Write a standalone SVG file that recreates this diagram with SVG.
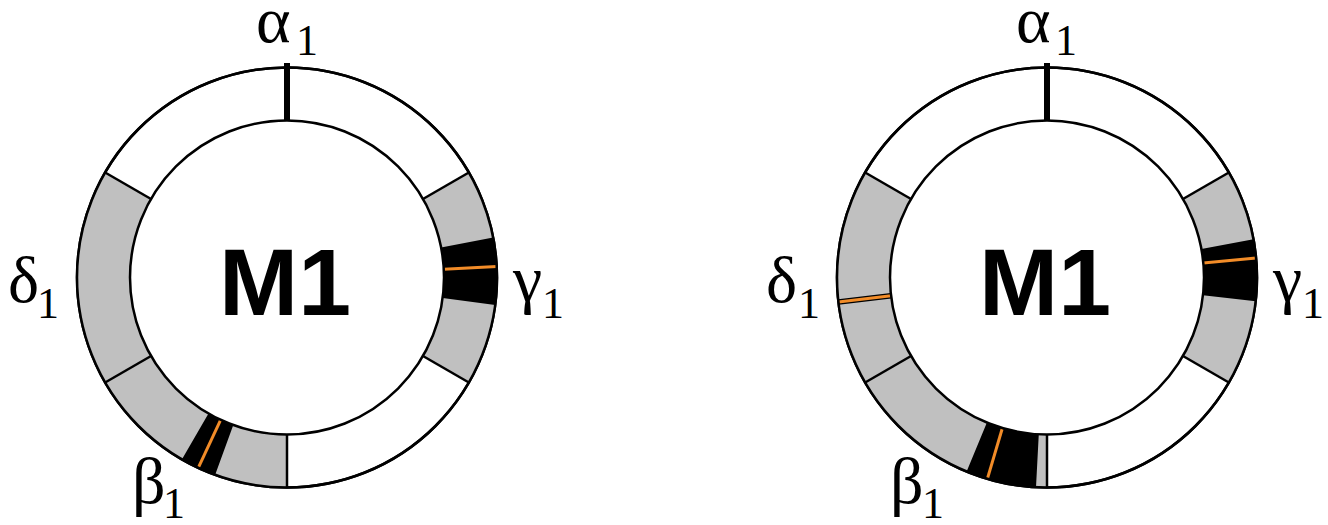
<svg xmlns="http://www.w3.org/2000/svg" width="1328" height="525" viewBox="0 0 1328 525">
<style>
.ring{fill:#fff;stroke:#000;stroke-width:2.5}
.ringo{fill:none;stroke:#000;stroke-width:2.5}
.gray{fill:#c0c0c0}
.blk{fill:#000}
.div{stroke:#000;stroke-width:2.5}
.tick{stroke:#000;stroke-width:6}
.org{stroke:#f28c28;stroke-width:3}
.orgb{stroke:#000;stroke-width:5.5}
.gk{font-family:"Liberation Serif","Times New Roman",serif;font-size:66px;fill:#000}
.sb{font-family:"Liberation Serif","Times New Roman",serif;font-size:44px;fill:#000}
.m{font-family:"Liberation Sans",Arial,sans-serif;font-weight:bold;font-size:95px;text-anchor:middle;fill:#000}
</style>
<rect width="1328" height="525" fill="#fff"/>
<g id="ring-left">
<circle class="ring" cx="287" cy="277.5" r="210"/>
<path class="gray" d="M468.87 172.5A210 210 0 0 1 468.87 382.5L422.97 356A157 157 0 0 0 422.97 199Z"/>
<path class="gray" d="M287 487.5A210 210 0 0 1 105.13 172.5L151.03 199A157 157 0 0 0 287 434.5Z"/>
<path class="blk" d="M493.14 237.43A210 210 0 0 1 495.2 304.91L442.66 297.99A157 157 0 0 0 441.12 247.54Z"/>
<path class="blk" d="M215.18 474.83A210 210 0 0 1 182 459.37L208.5 413.47A157 157 0 0 0 233.3 425.03Z"/>
<line class="org" x1="496.71" y1="266.51" x2="443.78" y2="269.28"/>
<line class="org" x1="198.25" y1="467.83" x2="220.65" y2="419.79"/>
<line class="div" x1="468.87" y1="172.5" x2="422.97" y2="199"/>
<line class="div" x1="468.87" y1="382.5" x2="422.97" y2="356"/>
<line class="div" x1="287" y1="487.5" x2="287" y2="434.5"/>
<line class="div" x1="105.13" y1="382.5" x2="151.03" y2="356"/>
<line class="div" x1="105.13" y1="172.5" x2="151.03" y2="199"/>
<circle class="ring" cx="287" cy="277.5" r="157"/>
<circle class="ringo" cx="287" cy="277.5" r="210"/>
<line class="tick" x1="287" y1="63" x2="287" y2="121"/>
<text class="m" x="285" y="315">M1</text>
</g>
<g id="labels-left">
<text class="gk" x="256" y="42">α</text>
<text class="sb" x="296" y="55">1</text>
<text class="gk" x="513" y="301">γ</text>
<text class="sb" x="542" y="318">1</text>
<text class="gk" x="8" y="302">δ</text>
<text class="sb" x="37" y="318">1</text>
<text class="gk" x="132" y="503">β</text>
<text class="sb" x="163" y="518">1</text>
</g>
<g id="ring-right">
<circle class="ring" cx="1047" cy="277.5" r="210"/>
<path class="gray" d="M1228.87 172.5A210 210 0 0 1 1228.87 382.5L1182.97 356A157 157 0 0 0 1182.97 199Z"/>
<path class="gray" d="M1047 487.5A210 210 0 0 1 865.13 172.5L911.03 199A157 157 0 0 0 1047 434.5Z"/>
<path class="blk" d="M1253.48 239.23A210 210 0 0 1 1255.65 301.27L1202.99 295.27A157 157 0 0 0 1201.37 248.89Z"/>
<path class="blk" d="M1036.01 487.21A210 210 0 0 1 966.64 471.51L986.92 422.55A157 157 0 0 0 1038.78 434.28Z"/>
<line class="orgb" x1="838.43" y1="302" x2="891.07" y2="295.82"/>
<line class="org" x1="1256.1" y1="258.1" x2="1203.33" y2="263"/>
<line class="org" x1="987.36" y1="478.85" x2="1002.41" y2="428.03"/>
<line class="org" x1="838.43" y1="302" x2="891.07" y2="295.82"/>
<line class="div" x1="1228.87" y1="172.5" x2="1182.97" y2="199"/>
<line class="div" x1="1228.87" y1="382.5" x2="1182.97" y2="356"/>
<line class="div" x1="1047" y1="487.5" x2="1047" y2="434.5"/>
<line class="div" x1="865.13" y1="382.5" x2="911.03" y2="356"/>
<line class="div" x1="865.13" y1="172.5" x2="911.03" y2="199"/>
<circle class="ring" cx="1047" cy="277.5" r="157"/>
<circle class="ringo" cx="1047" cy="277.5" r="210"/>
<line class="tick" x1="1047" y1="63" x2="1047" y2="121"/>
<text class="m" x="1045" y="315">M1</text>
</g>
<g id="labels-right">
<text class="gk" x="1016" y="42">α</text>
<text class="sb" x="1055" y="55">1</text>
<text class="gk" x="1273" y="301">γ</text>
<text class="sb" x="1302" y="318">1</text>
<text class="gk" x="766" y="302">δ</text>
<text class="sb" x="798" y="318">1</text>
<text class="gk" x="890" y="503">β</text>
<text class="sb" x="922" y="518">1</text>
</g>
<g id="connectors"></g>
</svg>
